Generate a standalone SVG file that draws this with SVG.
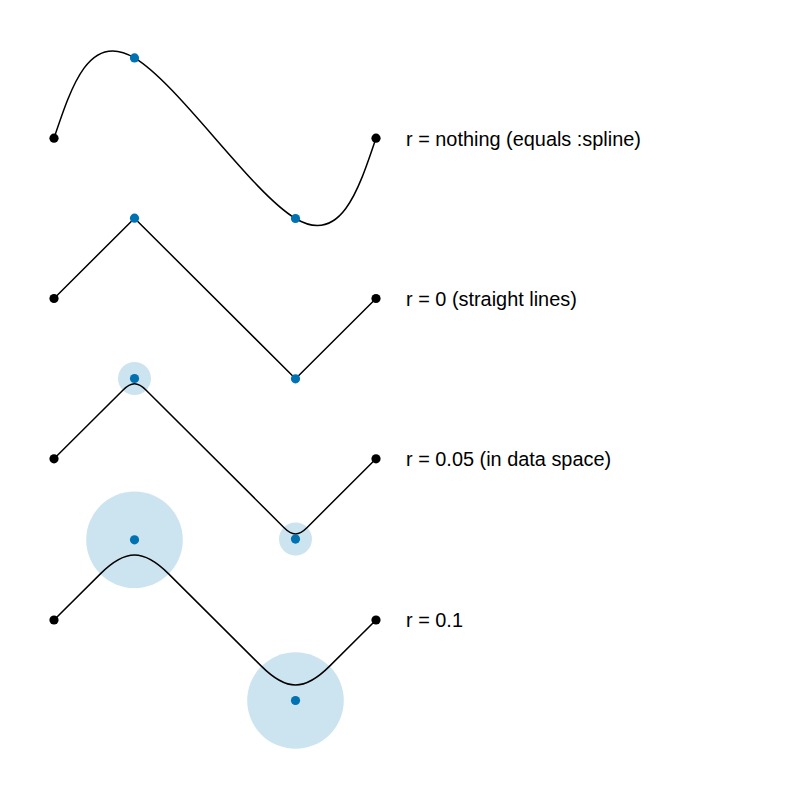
<svg xmlns="http://www.w3.org/2000/svg" width="800" height="800" viewBox="0 0 800 800">
<style>
.curve{fill:none;stroke:#000;stroke-width:1.5;stroke-linejoin:round}
.halo{fill:#0072B2;fill-opacity:0.2}
.end{fill:#000}
.ctrl{fill:#0072B2}
.lbl{font-family:"Liberation Sans",Arial,sans-serif;font-size:19.9px;fill:#000}
</style>
<rect width="800" height="800" fill="#fff"/>
<g id="halos">
<circle class="halo" cx="134.5" cy="378.5" r="16.5"/>
<circle class="halo" cx="295.5" cy="539.1" r="16.5"/>
<circle class="halo" cx="134.5" cy="539.8" r="48.3"/>
<circle class="halo" cx="295.5" cy="700.5" r="48.3"/>
</g>
<g id="connectors">
<path class="curve" d="M54,138.2 C71.9,84.7 89.8,31.1 134.5,57.9 C179.2,84.7 250.8,191.7 295.5,218.5 C340.2,245.3 358.1,191.7 376,138.2"/>
<path class="curve" d="M54,298.5 L134.5,218.2 L295.5,378.8 L376,298.5"/>
<path class="curve" d="M54,458.8 L122.83,390.17 C131.43,381.57 137.57,381.57 146.17,390.17 L283.83,527.43 C292.43,536.03 298.57,536.03 307.17,527.43 L376,458.8"/>
<path class="curve" d="M54,620 L100.35,573.85 C125.52,548.68 143.48,548.68 168.65,573.85 L261.35,666.15 C286.52,691.32 304.48,691.32 329.65,666.15 L376,620"/>
</g>
<g id="row1">
<circle class="end" cx="54" cy="138.2" r="4.6"/>
<circle class="ctrl" cx="134.5" cy="57.9" r="4.6"/>
<circle class="ctrl" cx="295.5" cy="218.5" r="4.6"/>
<circle class="end" cx="376" cy="138.2" r="4.6"/>
<text class="lbl" x="406" y="145.5">r = nothing (equals :spline)</text>
</g>
<g id="row2">
<circle class="end" cx="54" cy="298.5" r="4.6"/>
<circle class="ctrl" cx="134.5" cy="218.2" r="4.6"/>
<circle class="ctrl" cx="295.5" cy="378.8" r="4.6"/>
<circle class="end" cx="376" cy="298.5" r="4.6"/>
<text class="lbl" x="406" y="305.8">r = 0 (straight lines)</text>
</g>
<g id="row3">
<circle class="end" cx="54" cy="458.8" r="4.6"/>
<circle class="ctrl" cx="134.5" cy="378.5" r="4.6"/>
<circle class="ctrl" cx="295.5" cy="539.1" r="4.6"/>
<circle class="end" cx="376" cy="458.8" r="4.6"/>
<text class="lbl" x="406" y="466.1">r = 0.05 (in data space)</text>
</g>
<g id="row4">
<circle class="end" cx="54" cy="620" r="4.6"/>
<circle class="ctrl" cx="134.5" cy="539.8" r="4.6"/>
<circle class="ctrl" cx="295.5" cy="700.5" r="4.6"/>
<circle class="end" cx="376" cy="620" r="4.6"/>
<text class="lbl" x="406" y="627.3">r = 0.1</text>
</g>
</svg>
